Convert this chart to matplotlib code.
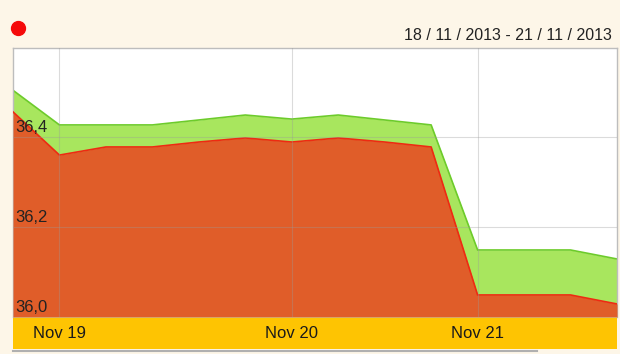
import matplotlib.pyplot as plt
import numpy as np

plt.rcParams['font.family'] = ['Liberation Sans', 'DejaVu Sans']

# readings, evenly spaced samples (ordinal x axis)
points = list(range(14))
upper = [36.504, 36.427, 36.427, 36.427, 36.438, 36.449, 36.440,
         36.449, 36.438, 36.427, 36.149, 36.149, 36.149, 36.129]
lower = [36.456, 36.360, 36.378, 36.378, 36.389, 36.398, 36.389,
         36.398, 36.389, 36.378, 36.049, 36.049, 36.049, 36.029]
tick_pos = [1, 6, 10]
tick_labels = ["Nov 19", "Nov 20", "Nov 21"]
y_ticks = [36.0, 36.2, 36.4]
period = "18 / 11 / 2013 - 21 / 11 / 2013"

BG = "#FDF6E8"
GREEN = "#A8E65E"
GREEN_EDGE = "#6DCB2B"
ORANGE = "#E05D29"
ORANGE_EDGE = "#EE2A12"
YELLOW = "#FEC402"

W, H = 620, 354
fig = plt.figure(figsize=(W / 100, H / 100), dpi=100, facecolor=BG)

x0, x1 = 13, 617
top, bot = 48, 317
ax = fig.add_axes([x0 / W, 1 - bot / H, (x1 - x0) / W, (bot - top) / H])
ax.set_facecolor("white")

ax.fill_between(points, 36.0, upper, color=GREEN, lw=0, zorder=1)
ax.plot(points, upper, color=GREEN_EDGE, lw=1.2, zorder=2)
ax.fill_between(points, 36.0, lower, color=ORANGE, lw=0, zorder=3)
ax.plot(points, lower, color=ORANGE_EDGE, lw=1.2, zorder=4)

ax.set_xlim(points[0], points[-1])
ax.set_ylim(36.0, 36.598)

for t in tick_pos:
    ax.axvline(t, color="#9a9a9a", lw=0.8, alpha=0.35, zorder=5)
for v in y_ticks:
    ax.axhline(v, color="#9a9a9a", lw=0.8, alpha=0.35, zorder=5)
    ax.text(0.06, v + 0.005, f"{v:.1f}".replace(".", ","), fontsize=12,
            color="#222222", ha="left", va="bottom", zorder=6)

ax.set_xticks([])
ax.set_yticks([])
for side in ["left", "top", "right"]:
    ax.spines[side].set_color("#BDBDBD")
    ax.spines[side].set_linewidth(1.0)
ax.spines["bottom"].set_visible(False)

# yellow date band
band = fig.add_axes([x0 / W, 1 - 349 / H, (x1 - x0) / W, 31 / H])
band.set_facecolor(YELLOW)
band.set_xlim(points[0], points[-1])
band.set_ylim(0, 1)
band.set_xticks([])
band.set_yticks([])
for t, lab in zip(tick_pos, tick_labels):
    band.text(t, 0.5, lab, fontsize=12, color="#1a1a1a", ha="center", va="center")
for s in band.spines.values():
    s.set_visible(False)

# scroll line under the band
fig.add_artist(plt.Line2D([x0 / W, 537 / W], [1 - 351 / H] * 2,
                          color="#B0B0B0", lw=1.5))

# status dot and period
fig.add_artist(plt.Line2D([18 / W], [1 - 28 / H], marker="o", markersize=10,
                          color="#F50A0A", lw=0))
fig.text(612 / W, 1 - 35 / H, period, fontsize=11.5, color="#222222",
         ha="right", va="center")

fig.savefig("out.png", dpi=100, facecolor=BG)
